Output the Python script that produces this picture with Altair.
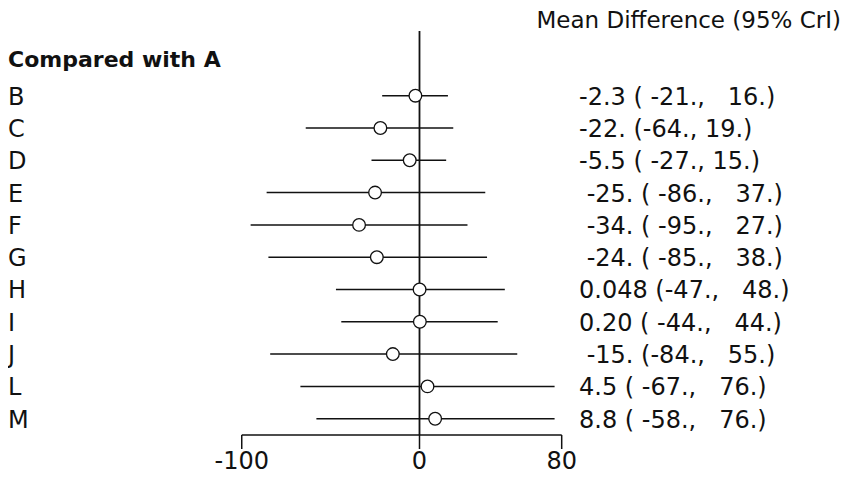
import altair as alt
import pandas as pd

labels = ["B", "C", "D", "E", "F", "G", "H", "I", "J", "L", "M"]
means = [-2.3, -22.0, -5.5, -25.0, -34.0, -24.0, 0.048, 0.20, -15.0, 4.5, 8.8]
lowers = [-21.0, -64.0, -27.0, -86.0, -95.0, -85.0, -47.0, -44.0, -84.0, -67.0, -58.0]
uppers = [16.0, 19.0, 15.0, 37.0, 27.0, 38.0, 48.0, 44.0, 55.0, 76.0, 76.0]
ci_text = [
    "-2.3 ( -21.,   16.)",
    "-22. (-64., 19.)",
    "-5.5 ( -27., 15.)",
    " -25. ( -86.,   37.)",
    " -34. ( -95.,   27.)",
    " -24. ( -85.,   38.)",
    "0.048 (-47.,   48.)",
    "0.20 ( -44.,   44.)",
    " -15. (-84.,   55.)",
    "4.5 ( -67.,   76.)",
    "8.8 ( -58.,   76.)",
]
tick_values = [-100, 0, 80]
header_left = "Compared with A"
header_right = "Mean Difference (95% CrI)"

NBSP = "\u00a0"
ZW = "\u200b"
df = pd.DataFrame({
    "label": labels,
    "mean": means,
    "lower": lowers,
    "upper": uppers,
    "txt": [ZW + s.replace(" ", NBSP) for s in ci_text],
    "row": list(range(1, len(labels) + 1)),
})
ticks_df = pd.DataFrame({"t": tick_values, "lab": [str(v) for v in tick_values]})
axis_df = pd.DataFrame({"a": [min(tick_values)], "b": [max(tick_values)]})
zero_df = pd.DataFrame({"z": [0]})
hdr_df = pd.DataFrame({"h1": [header_left], "h2": [header_right]})

FONT = "DejaVu Sans"
INK = "#111111"
W, H = 835, 469
xs = alt.Scale(domain=[-231.5, (W - 411.5) / 1.7775], nice=False, zero=False)
ys = alt.Scale(domain=[-1.715, 12.805], nice=False, zero=False, reverse=True)

base = alt.Chart(df)

ci = base.mark_rule(color=INK, strokeWidth=1.5).encode(
    x=alt.X("lower:Q", scale=xs, axis=None),
    x2="upper:Q",
    y=alt.Y("row:Q", scale=ys, axis=None),
)
zero = alt.Chart(zero_df).mark_rule(color=INK, strokeWidth=1.8).encode(
    x=alt.X("z:Q", scale=xs, axis=None),
    y=alt.value(23),
    y2=alt.value(427),
)
pts = base.mark_point(shape="circle", filled=True, fill="white", stroke=INK,
                      strokeWidth=1.3, size=160, opacity=1).encode(
    x=alt.X("mean:Q", scale=xs, axis=None),
    y=alt.Y("row:Q", scale=ys, axis=None),
)
axis_line = alt.Chart(axis_df).mark_rule(color=INK, strokeWidth=1.5).encode(
    x=alt.X("a:Q", scale=xs, axis=None),
    x2="b:Q",
    y=alt.value(427),
)
tick_marks = alt.Chart(ticks_df).mark_rule(color=INK, strokeWidth=1.5).encode(
    x=alt.X("t:Q", scale=xs, axis=None),
    y=alt.value(427),
    y2=alt.value(441),
)
tick_labels = alt.Chart(ticks_df).mark_text(font=FONT, fontSize=24, color=INK,
                                            baseline="alphabetic", align="center").encode(
    x=alt.X("t:Q", scale=xs, axis=None),
    y=alt.value(461),
    text="lab:N",
)
row_labels = base.mark_text(font=FONT, fontSize=24, color=INK, align="left",
                            baseline="middle", dy=2).encode(
    x=alt.value(0),
    y=alt.Y("row:Q", scale=ys, axis=None),
    text="label:N",
)
val_labels = base.mark_text(font=FONT, fontSize=24, color=INK, align="left",
                            baseline="middle", dy=2).encode(
    x=alt.value(571),
    y=alt.Y("row:Q", scale=ys, axis=None),
    text="txt:N",
)
h1 = alt.Chart(hdr_df).mark_text(font=FONT, fontSize=22, fontWeight="bold", color=INK,
                                 align="left", baseline="alphabetic").encode(
    x=alt.value(0), y=alt.value(59), text="h1:N")
h2 = alt.Chart(hdr_df).mark_text(font=FONT, fontSize=23, color=INK,
                                 align="right", baseline="alphabetic").encode(
    x=alt.value(833), y=alt.value(20), text="h2:N")

chart = alt.layer(ci, zero, pts, axis_line, tick_marks, tick_labels,
                  row_labels, val_labels, h1, h2).properties(
    width=W, height=H, padding=0,
    autosize=alt.AutoSizeParams(type="none"),
    background="white",
).configure_view(stroke=None)

chart.save("out.html", embed_options={"renderer": "svg", "actions": False})
